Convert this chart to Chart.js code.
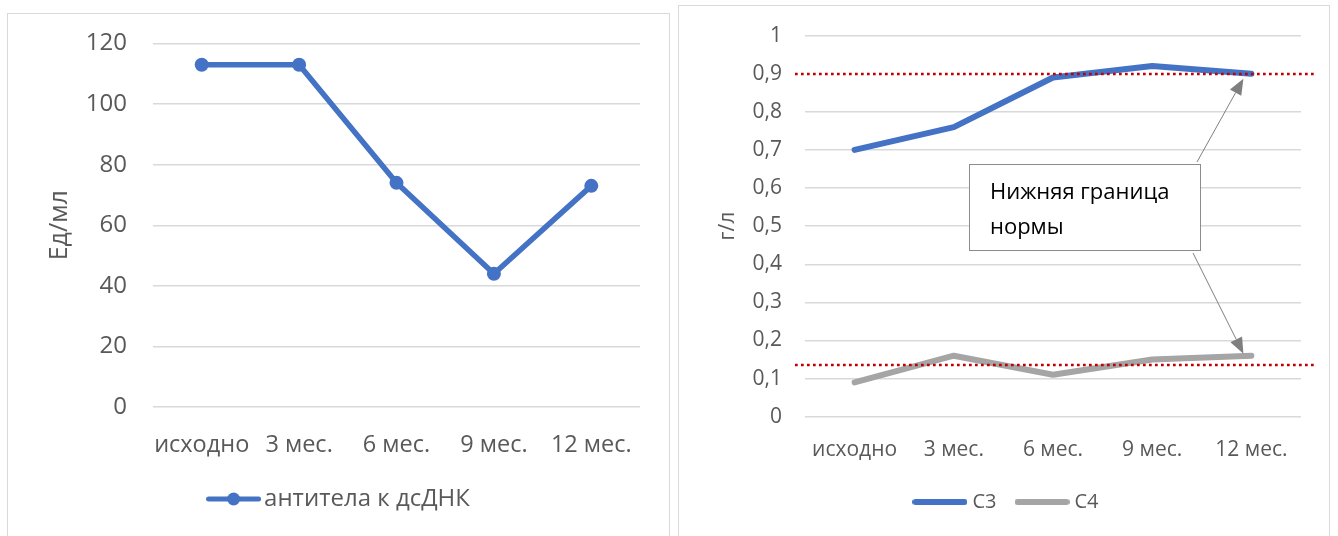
<!DOCTYPE html>
<html><head><meta charset="utf-8">
<script src="https://cdn.jsdelivr.net/npm/chart.js@4.4.0/dist/chart.umd.min.js"></script>
<style>
html,body{margin:0;padding:0;background:#fff;overflow:hidden;width:1338px;height:536px;}
.frame{position:absolute;border:1px solid #d9d9d9;box-sizing:border-box;}
canvas{position:absolute;top:0;}
</style></head><body>
<div class="frame" style="left:7px;top:13px;width:663px;height:600px"></div>
<div class="frame" style="left:678px;top:5px;width:652px;height:600px"></div>
<canvas id="c1" width="669" height="536" style="left:0"></canvas>
<canvas id="c2" width="669" height="536" style="left:669px"></canvas>
<script>
// ---- data ----
const categories = ['исходно', '3 мес.', '6 мес.', '9 мес.', '12 мес.'];
const antibodyLabel = 'антитела к дсДНК';
const antibodyValues = [113, 113, 74, 44, 73];
const antibodyTicks = ['0', '20', '40', '60', '80', '100', '120'];
const c3Values = [0.70, 0.76, 0.89, 0.92, 0.90];
const c4Values = [0.09, 0.16, 0.11, 0.15, 0.16];
const complementTicks = ['0', '0,1', '0,2', '0,3', '0,4', '0,5', '0,6', '0,7', '0,8', '0,9', '1'];
const normLines = [0.9, 0.135];
const noteLines = ['Нижняя граница', 'нормы'];

const FONT = "'Open Sans', 'Noto Sans', sans-serif";
const GRAY = '#595959';
const BLUE = '#4472C4';
const SILVER = '#A5A5A5';
const GRID = '#d9d9d9';
Chart.defaults.font.family = FONT;
Chart.defaults.color = GRAY;

function legendImage(color, width, height, lw, marker) {
  const c = document.createElement('canvas');
  c.width = width; c.height = height;
  const g = c.getContext('2d');
  g.strokeStyle = color; g.lineWidth = lw; g.lineCap = 'round';
  g.beginPath(); g.moveTo(lw / 2, height / 2); g.lineTo(width - lw / 2, height / 2); g.stroke();
  if (marker) { g.fillStyle = color; g.beginPath(); g.arc(width / 2, height / 2, marker, 0, Math.PI * 2); g.fill(); }
  return c;
}

// ---- left chart ----
const leftImg = legendImage(BLUE, 55, 16, 5, 6.5);
new Chart(document.getElementById('c1'), {
  type: 'line',
  data: {
    labels: categories,
    datasets: [{
      label: antibodyLabel,
      data: antibodyValues,
      borderColor: BLUE, backgroundColor: BLUE,
      borderWidth: 5.5, pointRadius: 7, pointHoverRadius: 7,
      pointBackgroundColor: BLUE, pointBorderWidth: 0,
      borderJoinStyle: 'round', borderCapStyle: 'round', tension: 0
    }]
  },
  options: {
    responsive: false, animation: false,
    layout: { padding: { left: 45, right: 29, top: 43.5, bottom: 15 } },
    plugins: {
      tooltip: { enabled: false },
      legend: {
        position: 'bottom',
        labels: {
          usePointStyle: true, pointStyleWidth: 37, padding: 10,
          font: { size: 24 }, color: GRAY,
          generateLabels: (chart) => Chart.defaults.plugins.legend.labels.generateLabels(chart).map(it => Object.assign(it, { pointStyle: leftImg }))
        }
      }
    },
    scales: {
      x: {
        offset: true,
        grid: { display: false }, border: { display: false },
        ticks: { font: { size: 23.5 }, color: GRAY, padding: 16, maxRotation: 0, autoSkip: false },
        afterFit: (s) => { s.height = 70; }
      },
      y: {
        min: 0, max: 120,
        grid: { color: GRID, lineWidth: 1.5, drawTicks: false },
        border: { display: false },
        ticks: { stepSize: 20, font: { size: 24 }, color: GRAY, padding: 26,
          callback: (v, i) => antibodyTicks[i] },
        title: { display: true, text: 'Ед/мл', font: { size: 25 }, color: GRAY, padding: 0 },
        afterFit: (s) => { s.width = 108; }
      }
    }
  }
});

// ---- right chart ----
const c3Img = legendImage(BLUE, 55, 8, 6);
const c4Img = legendImage(SILVER, 55, 8, 6);

function drawArrow(ctx, x0, y0, x1, y1) {
  const ang = Math.atan2(y1 - y0, x1 - x0);
  const len = 16, hw = 6.5;
  const bx = x1 - Math.cos(ang) * len, by = y1 - Math.sin(ang) * len;
  ctx.beginPath(); ctx.moveTo(x0, y0); ctx.lineTo(bx, by); ctx.stroke();
  ctx.beginPath();
  ctx.moveTo(x1, y1);
  ctx.lineTo(bx + Math.sin(ang) * hw, by - Math.cos(ang) * hw);
  ctx.lineTo(bx - Math.sin(ang) * hw, by + Math.cos(ang) * hw);
  ctx.closePath(); ctx.fill();
}

const notePlugin = {
  id: 'note',
  afterDatasetsDraw(chart) {
    const { ctx, chartArea: a, scales: { x, y } } = chart;
    ctx.save();
    ctx.strokeStyle = '#c00000'; ctx.lineWidth = 2.7; ctx.setLineDash([2.7, 3.3]);
    normLines.forEach(v => {
      const py = Math.round(y.getPixelForValue(v));
      ctx.beginPath(); ctx.moveTo(a.left - 10, py); ctx.lineTo(a.right + 15, py); ctx.stroke();
    });
    ctx.setLineDash([]);
    const bx = 300, by = 164, bw = 231, bh = 86;
    ctx.fillStyle = '#fff'; ctx.fillRect(bx, by, bw, bh);
    ctx.strokeStyle = '#8c8c8c'; ctx.lineWidth = 1; ctx.strokeRect(bx + 0.5, by + 0.5, bw, bh);
    ctx.fillStyle = '#000'; ctx.font = "22px " + FONT; ctx.textBaseline = 'middle'; ctx.textAlign = 'left';
    ctx.fillText(noteLines[0], 321, 193);
    ctx.fillText(noteLines[1], 321, 228);
    ctx.strokeStyle = '#7f7f7f'; ctx.fillStyle = '#7f7f7f'; ctx.lineWidth = 1;
    const tx = x.getPixelForValue(4) - 8;
    drawArrow(ctx, 528, 162, tx, y.getPixelForValue(c3Values[4]) + 5);
    drawArrow(ctx, 524, 253, tx, y.getPixelForValue(c4Values[4]) - 2);
    ctx.restore();
  }
};

new Chart(document.getElementById('c2'), {
  type: 'line',
  data: {
    labels: categories,
    datasets: [
      { label: 'C3', data: c3Values, borderColor: BLUE, backgroundColor: BLUE, borderWidth: 6,
        pointRadius: 0, borderJoinStyle: 'round', borderCapStyle: 'round', tension: 0 },
      { label: 'C4', data: c4Values, borderColor: SILVER, backgroundColor: SILVER, borderWidth: 6,
        pointRadius: 0, borderJoinStyle: 'round', borderCapStyle: 'round', tension: 0 }
    ]
  },
  plugins: [notePlugin],
  options: {
    responsive: false, animation: false,
    layout: { padding: { left: 46, right: 37, top: 34.7, bottom: 14 } },
    plugins: {
      tooltip: { enabled: false },
      legend: {
        position: 'bottom',
        labels: {
          usePointStyle: true, pointStyleWidth: 45, padding: 23,
          font: { size: 20 }, color: GRAY,
          generateLabels: (chart) => Chart.defaults.plugins.legend.labels.generateLabels(chart).map((it, i) => Object.assign(it, { pointStyle: i === 0 ? c3Img : c4Img }))
        }
      }
    },
    scales: {
      x: {
        offset: true,
        grid: { display: false }, border: { display: false },
        ticks: { font: { size: 21 }, color: GRAY, padding: 13, maxRotation: 0, autoSkip: false },
        afterFit: (s) => { s.height = 52.3; }
      },
      y: {
        min: 0, max: 1,
        grid: { lineWidth: 1.5, drawTicks: false,
          color: (c) => (c.tick && Math.abs(c.tick.value - 0.9) < 1e-6) ? 'rgba(0,0,0,0)' : GRID },
        border: { display: false },
        ticks: { stepSize: 0.1, font: { size: 21 }, color: GRAY, padding: 23,
          callback: (v, i) => complementTicks[i] },
        title: { display: true, text: 'г/л', font: { size: 21 }, color: GRAY, padding: 0 },
        afterFit: (s) => { s.width = 90; }
      }
    }
  }
});
</script>
</body></html>
